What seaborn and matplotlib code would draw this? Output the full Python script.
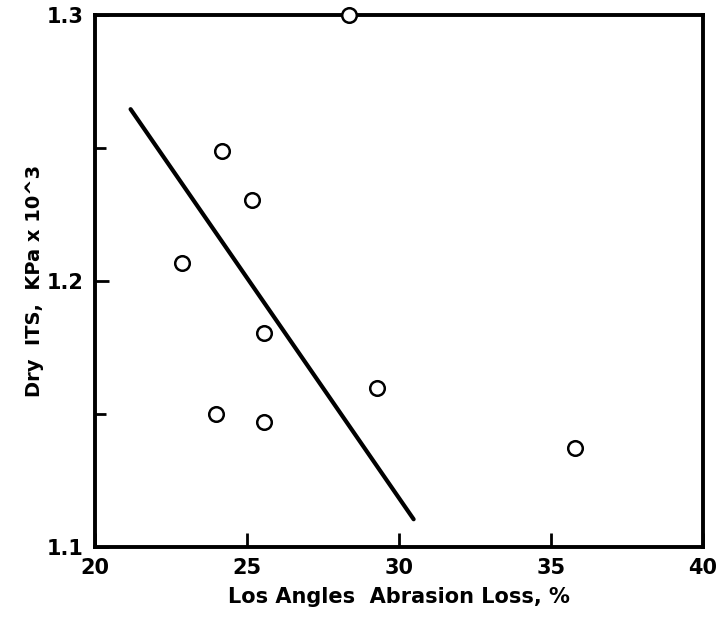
import matplotlib
matplotlib.use("Agg")
import matplotlib.pyplot as plt
import seaborn as sns
import numpy as np
import pandas as pd

# Data
abrasion_loss = [28.36, 24.18, 25.16, 22.86, 25.56, 29.28, 23.98, 25.56, 35.79]
dry_its = [1.300, 1.249, 1.2305, 1.2068, 1.1805, 1.160, 1.150, 1.147, 1.1372]
fit_x = [21.18, 30.49]
fit_y = [1.2647, 1.1105]
x_ticks = [20, 25, 30, 35, 40]
y_ticks = [1.1, 1.2, 1.3]
y_minor = [1.15, 1.25]

sns.set_style("ticks")
plt.rcParams['font.family'] = ['DejaVu Sans']
plt.rcParams['font.weight'] = 'bold'
plt.rcParams['text.color'] = 'black'
plt.rcParams['axes.labelcolor'] = 'black'
plt.rcParams['xtick.color'] = 'black'
plt.rcParams['ytick.color'] = 'black'

df = pd.DataFrame({"x": abrasion_loss, "y": dry_its})
fit = pd.DataFrame({"x": fit_x, "y": fit_y})

fig = plt.figure(figsize=(7.23, 6.37), dpi=100)
ax = fig.add_axes([0.131, 0.141, 0.841, 0.835])

sns.lineplot(data=fit, x="x", y="y", ax=ax, color="black", linewidth=3.0,
             solid_capstyle="round")
sns.scatterplot(data=df, x="x", y="y", ax=ax, s=110, marker="o",
                facecolor="white", edgecolor="black", linewidth=1.8,
                clip_on=False, zorder=5)

ax.set_xlim(20, 40)
ax.set_ylim(1.1, 1.3)
ax.set_xticks(x_ticks)
ax.set_xticklabels([str(t) for t in x_ticks])
ax.set_yticks(y_ticks)
ax.set_yticklabels([f"{t:.1f}" for t in y_ticks])
ax.set_yticks(y_minor, minor=True)

for s in ax.spines.values():
    s.set_linewidth(2.8)
    s.set_color("black")
    s.set_visible(True)

ax.tick_params(axis="both", which="major", direction="in", length=10, width=2,
               labelsize=15, pad=8, colors="black")
ax.tick_params(axis="y", which="minor", direction="in", length=8, width=2, colors="black")
for lab in ax.get_xticklabels() + ax.get_yticklabels():
    lab.set_fontweight("bold")

ax.set_xlabel("Los Angles  Abrasion Loss, %", fontsize=15, fontweight="bold",
              labelpad=6, color="black")
ax.set_ylabel("Dry  ITS,  KPa x 10^3", fontsize=14, fontweight="bold",
              labelpad=2, color="black")

fig.savefig("out.png", dpi=100, facecolor="white")
